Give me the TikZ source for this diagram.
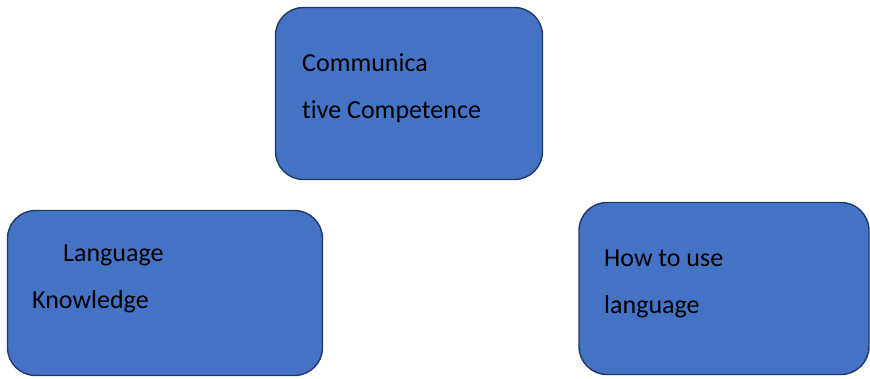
\documentclass[tikz,border=0pt]{standalone}
\usepackage{fontspec}
\setmainfont[Ligatures=NoCommon]{Carlito}
\usepackage{tikz}
\usetikzlibrary{positioning}

\definecolor{boxblue}{HTML}{4472C4}
\definecolor{boxline}{HTML}{203864}

\tikzset{
  topicbox/.style={draw=boxline, line width=1.4pt, fill=boxblue,
    rounded corners=28pt, inner sep=0pt},
  boxtext/.style={anchor=base west, inner sep=0pt,
    font=\fontsize{26}{30}\selectfont, text=black}
}

\begin{document}
\begin{tikzpicture}[x=1pt, y=-1pt]
    % --- 1. 畫布大小 ---
    \useasboundingbox (0,0) rectangle (870,378);

    % --- 2. 三個方框 ---
    \node[topicbox, minimum width=267pt, minimum height=172pt] (comp) at (409,93.5) {};
    \node[topicbox, minimum width=315pt, minimum height=165pt] (know) at (165,293) {};
    \node[topicbox, minimum width=290pt, minimum height=172pt] (use) at (724,288.5) {};

    % --- 3. 文字 ---
    \node[boxtext] (comp1) at (302,71) {Communica};
    \node[boxtext] (comp2) at (302,118) {tive Competence};
    \node[boxtext] (know1) at (63,261) {Language};
    \node[boxtext] (know2) at (32,308) {Knowledge};
    \node[boxtext] (use1) at (604,266) {How to use};
    \node[boxtext] (use2) at (604,313) {language};
\end{tikzpicture}
\end{document}
